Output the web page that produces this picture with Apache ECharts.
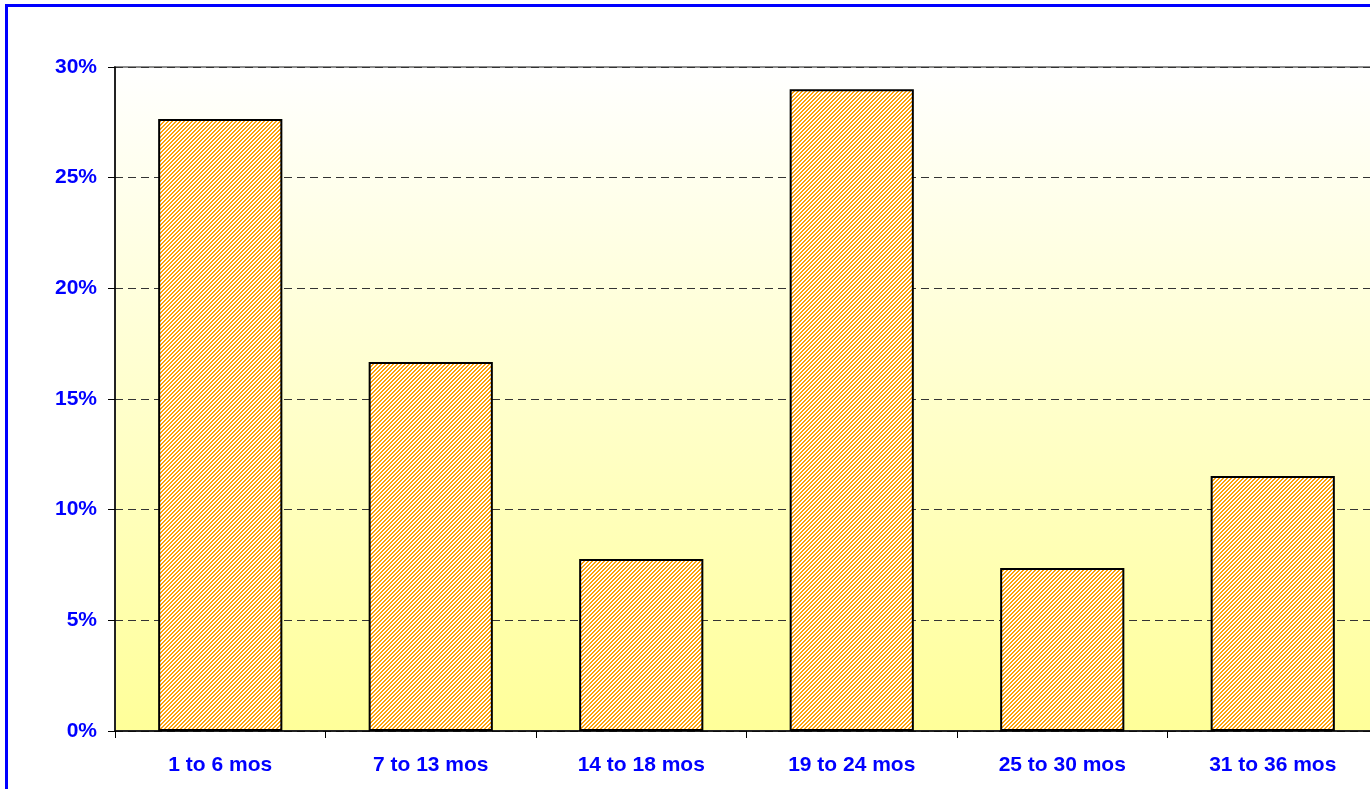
<!DOCTYPE html>
<html>
<head>
<meta charset="utf-8">
<script src="https://cdn.jsdelivr.net/npm/echarts@6/dist/echarts.min.js"></script>
<style>
html,body{margin:0;padding:0;background:#fff;}
#chart{width:1370px;height:789px;}
</style>
</head>
<body>
<div id="chart"></div>
<script>
const categories = ['1 to 6 mos', '7 to 13 mos', '14 to 18 mos', '19 to 24 mos', '25 to 30 mos', '31 to 36 mos'];
const shares = [27.65, 16.67, 7.77, 29.0, 7.37, 11.52];
const yTicks = { min: 0, max: 30, interval: 5 };

function hatch() {
  const c = document.createElement('canvas');
  c.width = 4; c.height = 4;
  const ctx = c.getContext('2d');
  const img = ctx.createImageData(4, 4);
  for (let y = 0; y < 4; y++) {
    for (let x = 0; x < 4; x++) {
      const i = (y * 4 + x) * 4;
      const on = ((x + y) % 4) < 2;
      img.data[i] = 255;
      img.data[i + 1] = on ? 162 : 255;
      img.data[i + 2] = on ? 10 : 255;
      img.data[i + 3] = 255;
    }
  }
  ctx.putImageData(img, 0, 0);
  return c;
}

const chart = echarts.init(document.getElementById('chart'), null, { renderer: 'canvas' });
const labelFont = { color: '#0000ff', fontWeight: 'bold', fontSize: 21, fontFamily: 'Liberation Sans, Arial, sans-serif' };
chart.setOption({
  animation: false,
  backgroundColor: '#ffffff',
  graphic: [{
    type: 'rect', left: 4, top: 3, silent: true,
    shape: { width: 1400, height: 820 },
    style: { fill: null, stroke: '#0000ff', lineWidth: 3 }
  }],
  grid: {
    left: 115, top: 67, height: 664, width: 1263,
    outerBoundsMode: 'none',
    containLabel: false,
    show: true,
    borderColor: '#8c8c8c', borderWidth: 2,
    backgroundColor: new echarts.graphic.LinearGradient(0, 0, 0, 1, [
      { offset: 0, color: '#ffffff' },
      { offset: 1, color: '#ffff99' }
    ])
  },
  xAxis: {
    type: 'category',
    data: categories,
    boundaryGap: true,
    axisLine: { lineStyle: { color: '#000', width: 1.5 } },
    axisTick: { show: true, length: 7, lineStyle: { color: '#000' } },
    axisLabel: Object.assign({ margin: 24 }, labelFont),
    splitLine: { show: false }
  },
  yAxis: {
    type: 'value',
    min: yTicks.min, max: yTicks.max, interval: yTicks.interval,
    axisLine: { show: true, lineStyle: { color: '#000', width: 1.5 } },
    axisTick: { show: true, length: 7, lineStyle: { color: '#000' } },
    axisLabel: Object.assign({ margin: 18, formatter: '{value}%' }, labelFont),
    splitLine: { show: true, lineStyle: { color: '#333', type: [8, 5], width: 1 } }
  },
  series: [{
    type: 'bar',
    data: shares,
    barWidth: '59%',
    itemStyle: {
      color: { image: hatch(), repeat: 'repeat' },
      borderColor: '#000',
      borderWidth: 2
    }
  }]
});
</script>
</body>
</html>
